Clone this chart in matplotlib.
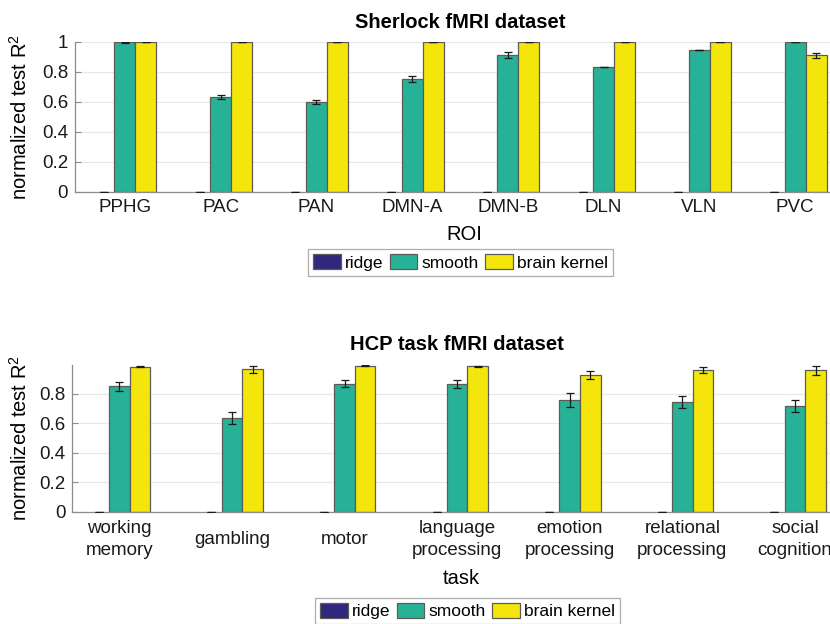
import matplotlib
matplotlib.use('Agg')
import matplotlib.pyplot as plt
import numpy as np
from matplotlib.patches import Patch

plt.rcParams['font.family'] = ['Liberation Sans', 'DejaVu Sans']
plt.rcParams['mathtext.fontset'] = 'custom'
plt.rcParams['mathtext.rm'] = 'Liberation Sans'

methods = ['ridge', 'smooth', 'brain kernel']
colors = ['#30287C', '#27B298', '#F4E60D']

# Sherlock fMRI dataset
rois = ['PPHG', 'PAC', 'PAN', 'DMN-A', 'DMN-B', 'DLN', 'VLN', 'PVC']
sherlock_ridge = [0, 0, 0, 0, 0, 0, 0, 0]
sherlock_smooth = [0.995, 0.633, 0.600, 0.751, 0.911, 0.829, 0.944, 1.0]
sherlock_kernel = [1, 1, 1, 1, 1, 1, 1, 0.909]
sherlock_ridge_err = [0, 0, 0, 0, 0, 0, 0, 0]
sherlock_smooth_err = [0.001, 0.014, 0.013, 0.018, 0.018, 0.001, 0.001, 0.001]
sherlock_kernel_err = [0, 0, 0, 0, 0, 0, 0, 0.015]

# HCP task fMRI dataset
tasks = ['working\nmemory', 'gambling', 'motor', 'language\nprocessing',
         'emotion\nprocessing', 'relational\nprocessing', 'social\ncognition']
hcp_ridge = [0, 0, 0, 0, 0, 0, 0]
hcp_smooth = [0.850, 0.635, 0.868, 0.868, 0.755, 0.741, 0.714]
hcp_kernel = [0.983, 0.965, 0.990, 0.985, 0.929, 0.960, 0.958]
hcp_ridge_err = [0, 0, 0, 0, 0, 0, 0]
hcp_smooth_err = [0.029, 0.040, 0.024, 0.028, 0.047, 0.041, 0.041]
hcp_kernel_err = [0.004, 0.026, 0.003, 0.004, 0.026, 0.021, 0.028]

W, H = 830, 624
fig = plt.figure(figsize=(W / 100, H / 100), dpi=100)


def px_axes(left, right, top, bottom):
    return fig.add_axes([left / W, 1 - bottom / H, (right - left) / W, (bottom - top) / H])


def draw_panel(ax, labels, series, errs, width, title, xlabel, xlim, ylim,
               yticks, tick_pad, tick_va, title_pad, xlabel_y, ylabel_x):
    x = np.arange(1, len(labels) + 1)
    offsets = [-width, 0, width]
    for vals, err, off, c, name in zip(series, errs, offsets, colors, methods):
        lw = 0 if name == 'ridge' else 0.9
        ax.bar(x + off, vals, width, color=c, edgecolor='#5c5c55',
               linewidth=lw, zorder=2)
        ax.errorbar(x + off, vals, yerr=err, fmt='none', ecolor='#1a1a1a',
                    elinewidth=0.9, capsize=3.2, capthick=0.9, zorder=3)
    ax.set_xlim(*xlim)
    ax.set_ylim(*ylim)
    ax.set_xticks(x)
    ax.set_xticklabels(labels, fontsize=13.5, va=tick_va, linespacing=1.45)
    ax.set_yticks(yticks)
    ax.set_yticklabels(['%g' % t for t in yticks], fontsize=13.5)
    ax.tick_params(axis='both', direction='in', length=4, color='#8c8c8c',
                   labelcolor='#1a1a1a')
    ax.tick_params(axis='x', pad=tick_pad)
    ax.tick_params(axis='y', pad=5)
    ax.yaxis.grid(True, color='#e8e8e8', linewidth=0.9)
    ax.set_axisbelow(True)
    for s in ['top', 'right']:
        ax.spines[s].set_visible(False)
    for s in ['left', 'bottom']:
        ax.spines[s].set_color('#8c8c8c')
        ax.spines[s].set_linewidth(0.9)
    ax.set_title(title, fontsize=14.5, fontweight='bold', pad=title_pad)
    ax.set_xlabel(xlabel, fontsize=14.5)
    ax.xaxis.set_label_coords(0.505, xlabel_y)
    ax.set_ylabel(r'normalized test R$^{\mathregular{2}}$', fontsize=14.5)
    ax.yaxis.set_label_coords(ylabel_x, 0.5)


ax1 = px_axes(75, 845, 41.7, 191.7)
draw_panel(ax1, rois, [sherlock_ridge, sherlock_smooth, sherlock_kernel],
           [sherlock_ridge_err, sherlock_smooth_err, sherlock_kernel_err],
           0.219, 'Sherlock fMRI dataset', 'ROI', (0.48, 8.52), (0, 1),
           [0, 0.2, 0.4, 0.6, 0.8, 1], 5, 'top', 10, -0.22, -0.057)

ax2 = px_axes(72.3, 842, 365, 511.7)
draw_panel(ax2, tasks, [hcp_ridge, hcp_smooth, hcp_kernel],
           [hcp_ridge_err, hcp_smooth_err, hcp_kernel_err],
           0.183, 'HCP task fMRI dataset', 'task', (0.583, 7.417), (0, 0.995),
           [0, 0.2, 0.4, 0.6, 0.8], 20, 'center', 11, -0.39, -0.054)

handles = [Patch(facecolor=c, edgecolor='#5c5c55', linewidth=0.9) for c in colors]
for cx, cy in [(460.5, 262.5), (467.5, 611)]:
    leg = fig.legend(handles, methods, loc='center', ncol=3,
                     bbox_to_anchor=(cx / W, 1 - cy / H), fontsize=12.5,
                     handlelength=1.6, handleheight=0.95, handletextpad=0.25,
                     columnspacing=0.35, borderpad=0.3, borderaxespad=0,
                     fancybox=False, frameon=True)
    leg.get_frame().set_edgecolor('#9a9a9a')
    leg.get_frame().set_linewidth(0.9)

fig.savefig('out.png', dpi=100)
